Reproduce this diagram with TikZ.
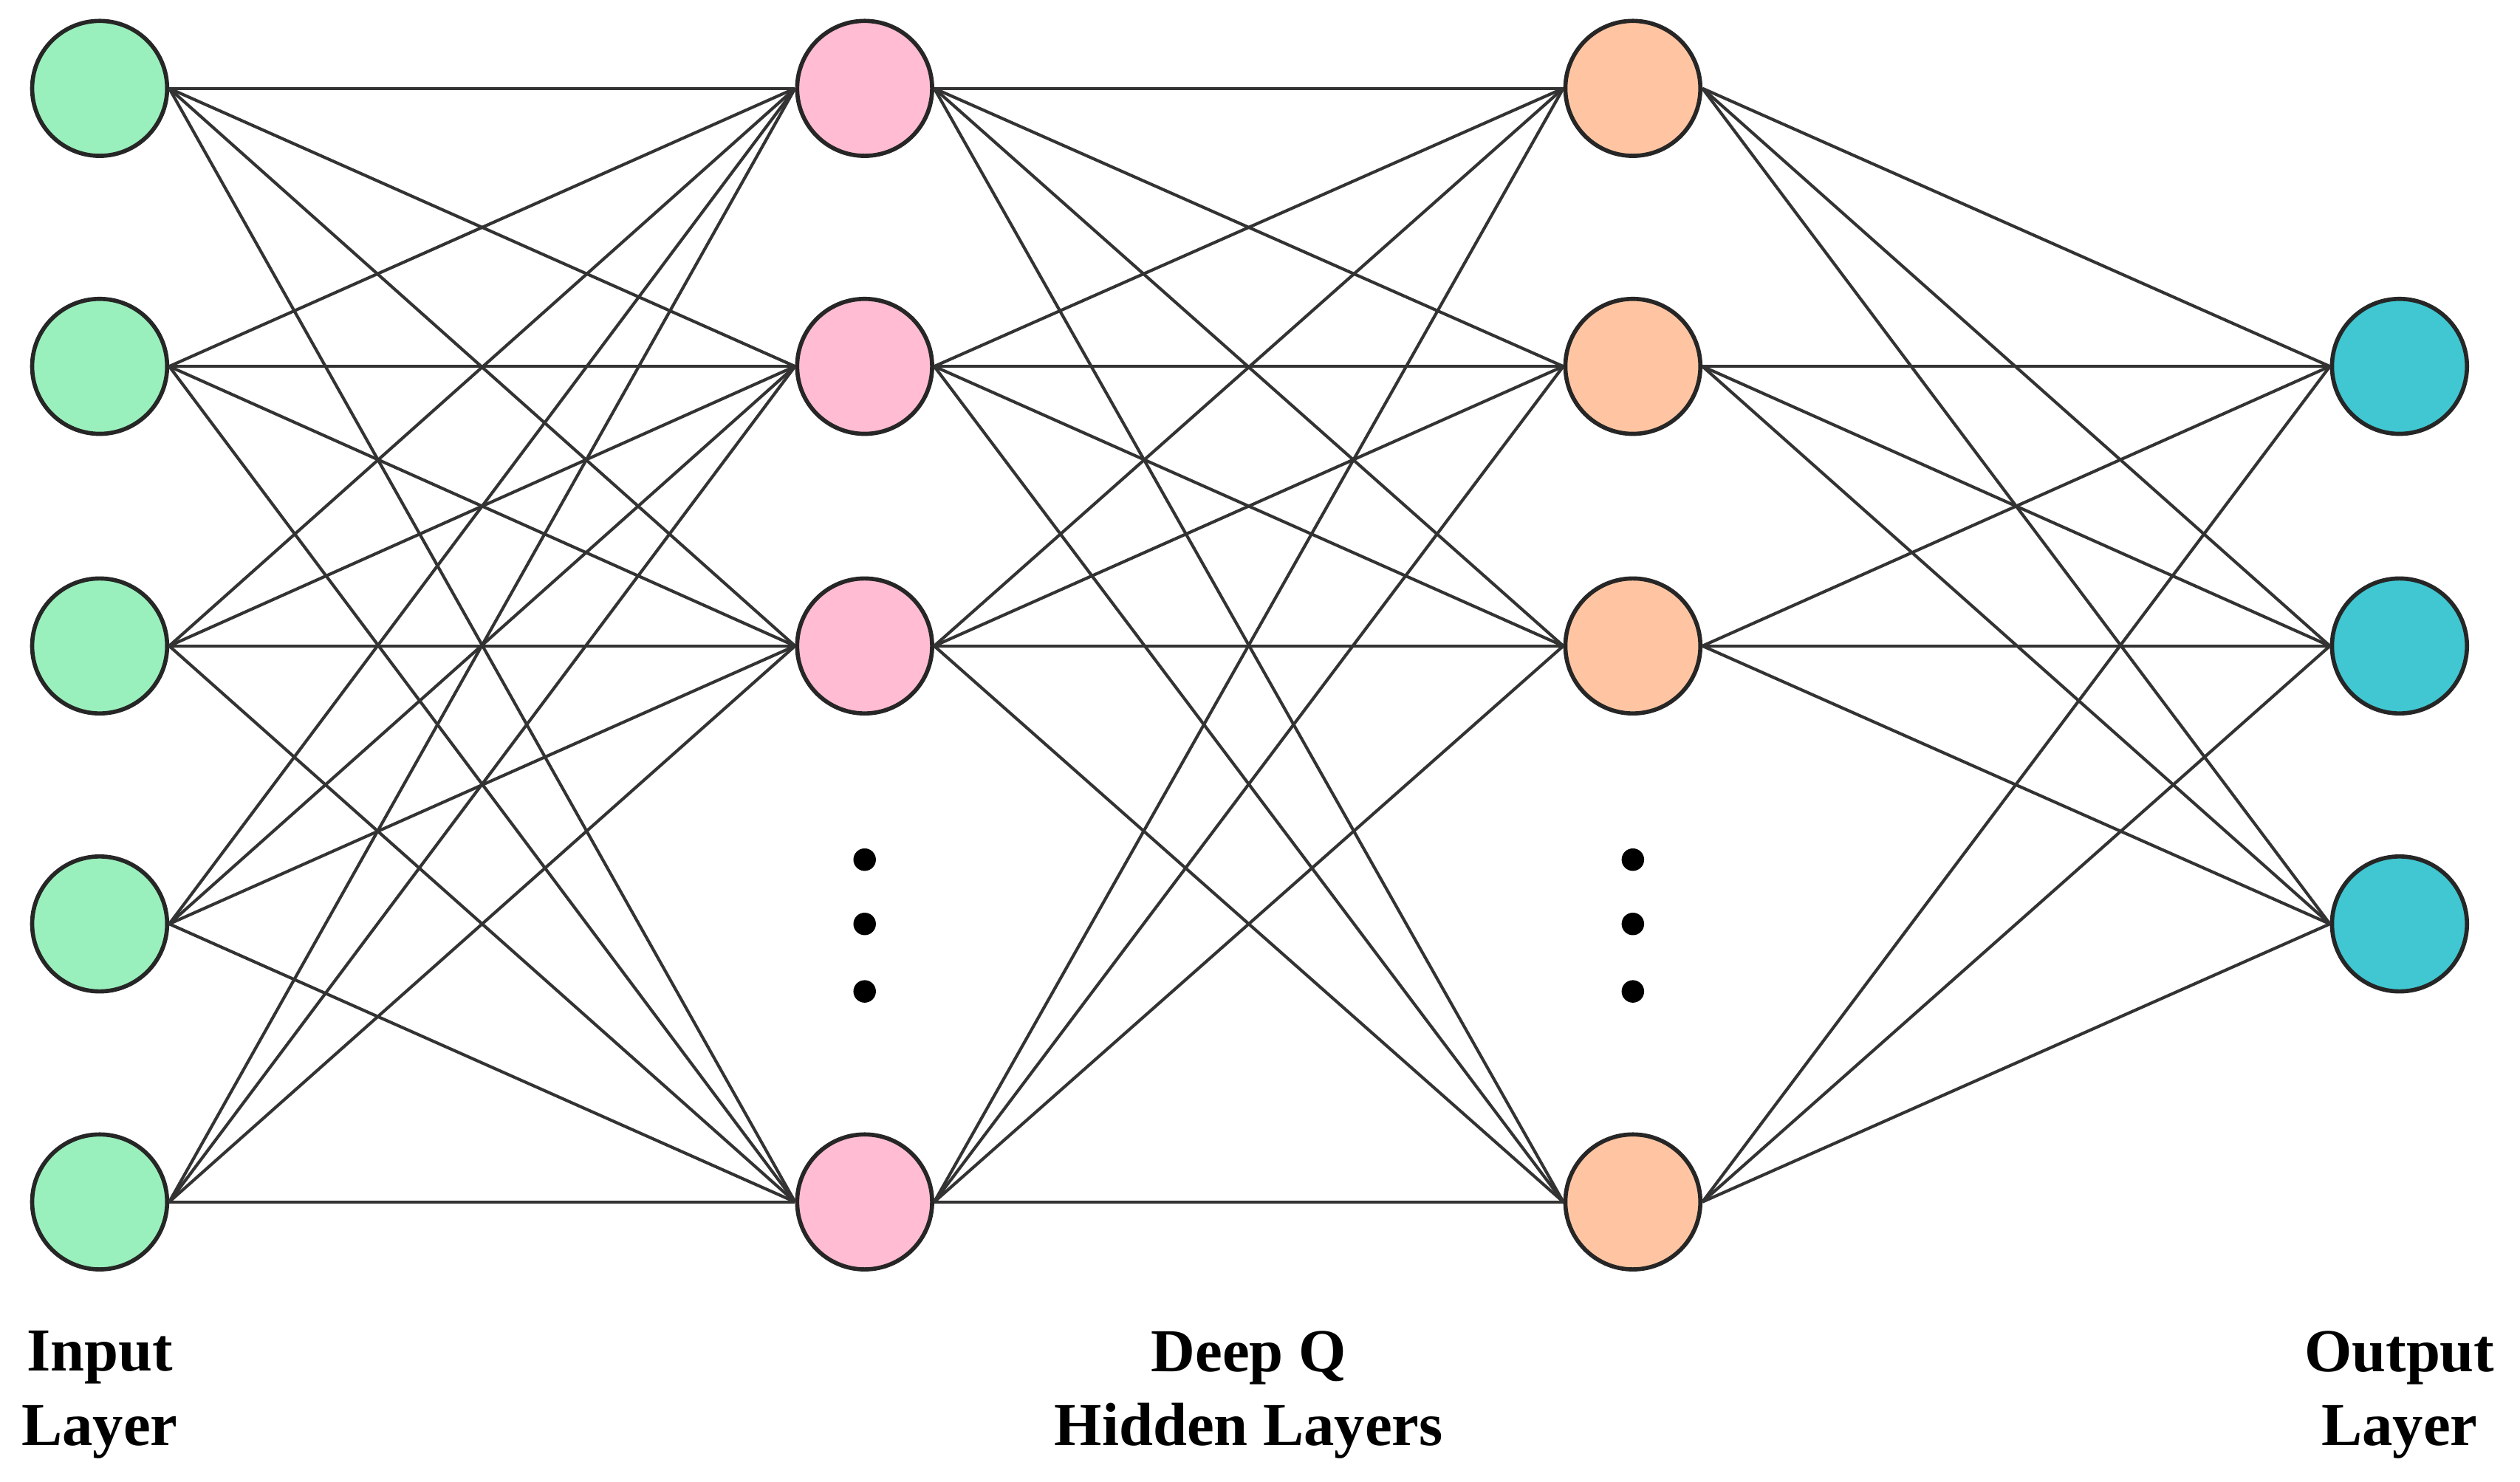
\documentclass[tikz,border=0pt]{standalone}
\usepackage{fontspec}
\setmainfont{Liberation Serif}
\definecolor{cin}{HTML}{9AF0BC}
\definecolor{ch1}{HTML}{FFBCD2}
\definecolor{ch2}{HTML}{FFC5A2}
\definecolor{cout}{HTML}{40C7D1}
\definecolor{edge}{HTML}{333333}
\begin{document}
\begin{tikzpicture}[x=1pt,y=-1pt,
  neu/.style={circle,draw=black!85,line width=2.6pt,minimum size=84pt,inner sep=0pt},
  con/.style={draw=edge,line width=1.9pt},
  lab/.style={font=\fontsize{38}{46}\selectfont\bfseries,align=center},
  dot/.style={circle,fill=black,inner sep=0pt,minimum size=14pt}]
\useasboundingbox (0,0) rectangle (1568,922);
\foreach \i/\y in {1/55,2/228,3/402,4/575,5/748} \node[neu,fill=cin] (a\i) at (62,\y) {};
\foreach \i/\y in {1/55,2/228,3/402,4/748} {
  \node[neu,fill=ch1] (b\i) at (538,\y) {};
  \node[neu,fill=ch2] (c\i) at (1016,\y) {};}
\foreach \i/\y in {1/228,2/402,3/575} \node[neu,fill=cout] (d\i) at (1493,\y) {};
\begin{scope}[on background layer/.style={}]
\foreach \i in {1,...,5} \foreach \j in {1,...,4} \draw[con] (a\i.east) -- (b\j.west);
\foreach \i in {1,...,4} \foreach \j in {1,...,4} \draw[con] (b\i.east) -- (c\j.west);
\foreach \i in {1,...,4} \foreach \j in {1,...,3} \draw[con] (c\i.east) -- (d\j.west);
\end{scope}
\foreach \x/\n in {538/p,1016/q} \foreach \k/\y in {1/535,2/575,3/617} \node[dot] (\n\k) at (\x,\y) {};
\node[lab] (l1) at (62,868) {Input\\Layer};
\node[lab] (l2) at (777,868) {Deep Q\\Hidden Layers};
\node[lab] (l3) at (1493,868) {Output\\Layer};
\end{tikzpicture}
\end{document}
